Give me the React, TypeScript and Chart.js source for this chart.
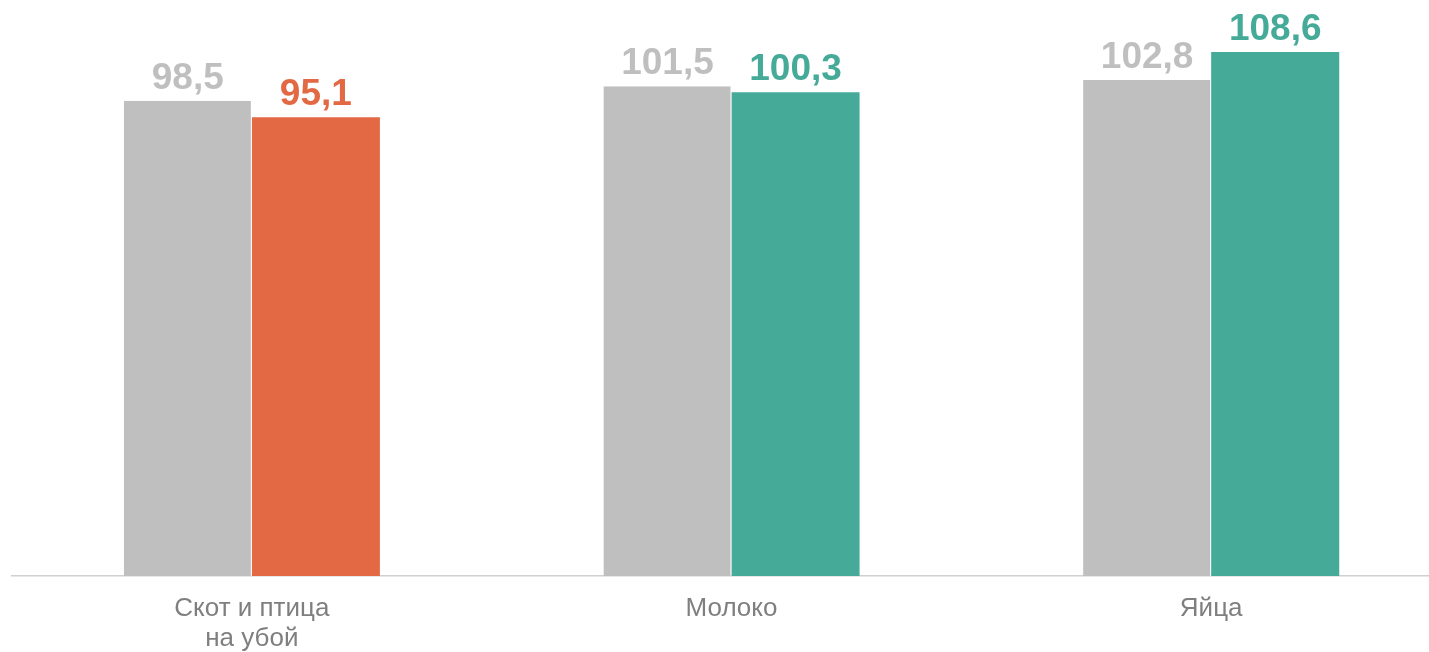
import React, { useEffect, useRef } from "react";
import { Chart, registerables } from "chart.js";

Chart.register(...registerables);

const categories: (string | string[])[] = [["Скот и птица", "на убой"], "Молоко", "Яйца"];
const previousValues = [98.5, 101.5, 102.8];
const currentValues = [95.1, 100.3, 108.6];
const currentColors = ["#E36944", "#45AA97", "#45AA97"];
const greyColor = "#BFBFBF";

const fmt = (v: number) => v.toFixed(1).replace(".", ",");

const valueLabels = {
  id: "valueLabels",
  afterDatasetsDraw(chart: any) {
    const ctx = chart.ctx;
    ctx.save();
    ctx.font = "bold 37px Arial, 'Liberation Sans', sans-serif";
    ctx.textAlign = "center";
    ctx.textBaseline = "alphabetic";
    chart.data.datasets.forEach((ds: any, di: number) => {
      const meta = chart.getDatasetMeta(di);
      meta.data.forEach((el: any, i: number) => {
        const v = ds.data[i] as number;
        ctx.fillStyle = Array.isArray(ds.labelColor) ? ds.labelColor[i] : ds.labelColor;
        ctx.fillText(fmt(v), el.x, el.y - 12);
      });
    });
    ctx.restore();
  },
};

export default function App() {
  const ref = useRef<HTMLCanvasElement>(null);
  useEffect(() => {
    if (!ref.current) return;
    const chart = new Chart(ref.current, {
      type: "bar",
      data: {
        labels: categories,
        datasets: [
          {
            data: previousValues,
            backgroundColor: greyColor,
            borderColor: "#ffffff",
            borderWidth: { top: 0, right: 1, bottom: 0, left: 0 },
            borderSkipped: false,
            labelColor: greyColor,
          } as any,
          {
            data: currentValues,
            backgroundColor: currentColors,
            borderWidth: 0,
            labelColor: currentColors,
          } as any,
        ],
      },
      options: {
        responsive: false,
        animation: false,
        layout: { padding: { left: 12, right: 0, top: 0, bottom: 0 } },
        plugins: { legend: { display: false }, tooltip: { enabled: false } },
        datasets: { bar: { categoryPercentage: 0.534, barPercentage: 1 } },
        scales: {
          x: {
            grid: { display: false },
            border: { display: true, color: "#D0D0D0", width: 1.5 },
            ticks: {
              color: "#7F7F7F",
              padding: 10,
              font: { family: "Arial, 'Liberation Sans', sans-serif", size: 26, lineHeight: 1.15 },
            },
            afterFit: (s: any) => {
              s.height = 76;
            },
          },
          y: { display: false, min: 0, max: 119.4 },
        },
      },
      plugins: [valueLabels],
    });
    return () => chart.destroy();
  }, []);
  return (
    <div style={{ position: "fixed", left: 0, top: 0, width: 1429, height: 652, overflow: "hidden", background: "#fff" }}>
      <canvas ref={ref} width={1451} height={652} style={{ display: "block" }} />
    </div>
  );
}
